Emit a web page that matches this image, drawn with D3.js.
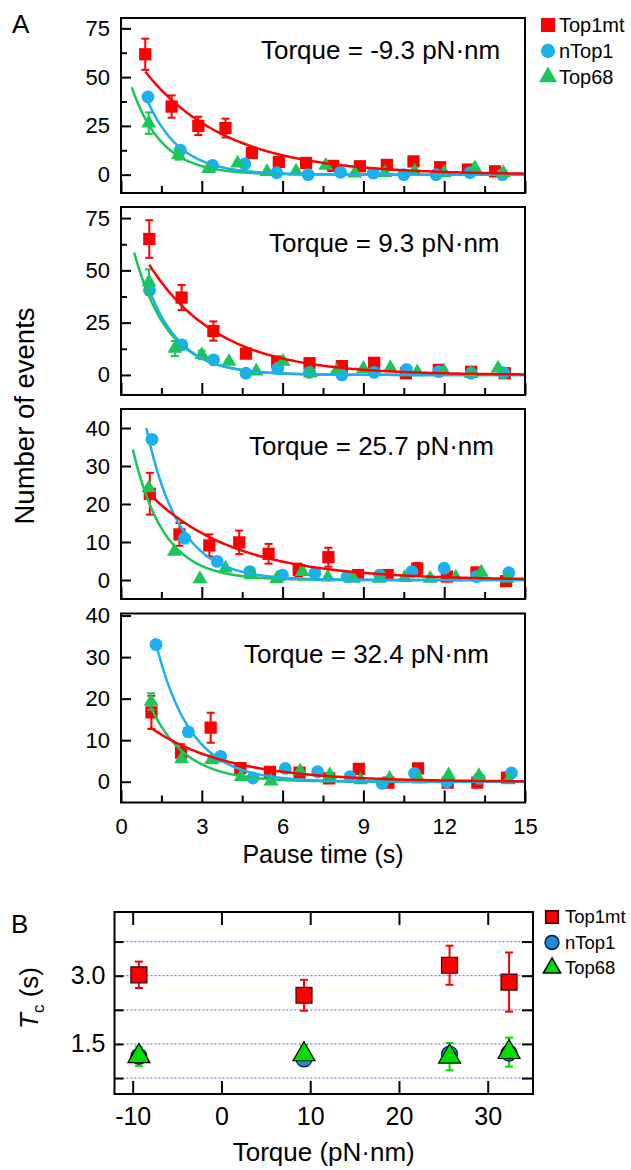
<!DOCTYPE html>
<html>
<head>
<meta charset="utf-8">
<script src="https://cdn.jsdelivr.net/npm/d3@7"></script>
<style>
  body { margin: 0; background: #fff; }
  text { font-family: "Liberation Sans", Arial, sans-serif; fill: #000; }
</style>
</head>
<body>
<svg id="chart" width="631" height="1170"></svg>
<script>
const seriesNames = ["Top1mt", "nTop1", "Top68"]
const colorsA = ["#ff0000", "#1cb0ee", "#18c65a"]
const torqueLabels = ["Torque = -9.3 pN·nm", "Torque = 9.3 pN·nm", "Torque = 25.7 pN·nm", "Torque = 32.4 pN·nm"]

// panel A, one inner list per torque (-9.3, 9.3, 25.7, 32.4)
const top1mtTime = [
  [0.9, 1.88, 2.87, 3.88, 4.86, 5.86, 6.87, 7.88, 8.87, 9.87, 10.86, 11.85, 12.88, 13.89],
  [1.05, 2.25, 3.43, 4.64, 5.8, 7.0, 8.2, 9.4, 10.58, 11.8, 13.0, 14.25],
  [1.07, 2.17, 3.28, 4.39, 5.48, 6.6, 7.7, 8.8, 9.9, 11.0, 12.1, 13.2, 14.3],
  [1.13, 2.23, 3.33, 4.43, 5.53, 6.63, 7.73, 8.83, 9.93, 11.03, 12.13, 13.23, 14.33]
]
const top1mtCount = [
  [61.7, 34.9, 25, 23.9, 11.1, 6.5, 6.0, 4.5, 4.3, 5.0, 6.8, 3.8, 2.6, 1.7],
  [65, 37, 21, 10.2, 6.4, 5.6, 4.2, 5.8, 0.8, 2.4, 1.5, 0.8],
  [22.7, 12, 9.1, 9.9, 6.9, 2.6, 6.0, 1.3, 1.3, 3.0, 0.9, 2.0, -0.3],
  [16.7, 7.0, 13.0, 3.3, 2.4, 2.2, 0.8, 3.1, -0.2, 3.2, -0.2, -0.2, 1.0]
]
const top1mtErr = [
  [8, 5.7, 4.7, 4.8, 0, 0, 0, 0, 0, 0, 0, 0, 0, 0],
  [9, 6, 4.6, 0, 0, 0, 0, 0, 0, 0, 0, 0],
  [5.5, 3, 2.9, 3.1, 2.6, 1.7, 2.5, 0, 0, 1.5, 0, 0, 0],
  [4, 2, 3.6, 0, 0, 0, 0, 0, 0, 0, 0, 0, 0]
]
const nTop1Time = [
  [1.0, 2.2, 3.4, 4.6, 5.78, 6.95, 8.15, 9.37, 10.5, 11.7, 12.96, 14.16],
  [1.06, 2.26, 3.44, 4.64, 5.82, 7.0, 8.2, 9.4, 10.6, 11.8, 13.0, 14.2],
  [1.15, 2.36, 3.57, 4.78, 5.99, 7.2, 8.4, 9.6, 10.8, 12.0, 13.2, 14.4],
  [1.3, 2.5, 3.7, 4.9, 6.1, 7.3, 8.5, 9.7, 10.9, 12.1, 13.3, 14.5]
]
const nTop1Count = [
  [39.8, 12.6, 4.7, 5.5, 1.0, 0, 1.2, 0.8, 0, 0, 1.0, 0],
  [40.5, 14.4, 7.2, 0.8, 3.2, 1.2, 0, 1.2, 2.6, 1.6, 0.8, 1.1],
  [37, 11, 4.9, 2.2, 1.3, 1.8, 0.9, 1.3, 2.2, 3.1, 0.9, 1.9],
  [33, 12, 6.1, 0.9, 3.2, 2.4, 1.2, -0.4, 2.0, 0, 0.8, 2.1]
]
const top68Time = [
  [1.03, 2.13, 3.25, 4.33, 5.42, 6.5, 7.6, 8.68, 9.8, 10.9, 12.0, 13.14, 14.2],
  [1.04, 2.0, 3.0, 4.01, 5.02, 6.02, 7.03, 8.0, 9.0, 10.0, 11.0, 12.0, 13.0, 14.0],
  [1.03, 1.98, 2.93, 3.88, 4.83, 5.78, 6.73, 7.68, 8.63, 9.58, 10.53, 11.48, 12.43, 13.38, 14.33],
  [1.12, 2.25, 3.36, 4.46, 5.57, 6.65, 7.75, 8.9, 9.97, 11.06, 12.16, 13.29, 14.39]
]
const top68Count = [
  [26.4, 10.2, 3.0, 5.8, 1.5, 1.7, 4.7, 0.7, 1.0, 1.7, 0.9, 3.4, 0.9],
  [44.5, 12.6, 9.6, 6.4, 1.8, 6.4, 0.8, 2.0, 3.0, 3.4, 1.4, 1.6, 0.8, 3.2],
  [24.2, 7.5, 0.3, 3.1, 1.3, 0.3, 2.2, 0.7, 0.4, 0.4, 0.6, 0.4, 0.7, 2.0, 0.4],
  [19.3, 5.5, 5.3, 1.2, 0.1, 2.6, 1.6, 0.4, 0.8, 0.6, 1.6, 1.4, 0.4]
]
const top68Err = [
  [5.5, 2.5, 0, 0, 0, 0, 0, 0, 0, 0, 0, 0, 0],
  [6, 3.6, 2, 0, 0, 0, 0, 0, 0, 0, 0, 0, 0, 0],
  [0, 0, 0, 0, 0, 0, 0, 0, 0, 0, 0, 0, 0, 0, 0],
  [2, 0, 0, 0, 0, 0, 0, 0, 0, 0, 0, 0, 0]
]

// exponential fits: start time, value at start, decay time (s); order Top1mt, nTop1, Top68
const fitStart = [[0.9, 1.0, 0.4], [1.05, 1.06, 0.49], [1.02, 0.94, 0.44], [1.08, 1.25, 1.0]]
const fitStartValue = [[52.8, 37.5, 44.8], [52.7, 40.4, 58.5], [22.9, 40, 34.3], [13.1, 34.5, 19.5]]
const fitTau = [[3.05, 1.2, 1.12], [2.6, 1.2, 1.25], [3.2, 1.22, 1.15], [2.9, 1.3, 1.3]]

const yDomains = [[-9.4, 80.3], [-9.6, 80.3], [-5, 45], [-5, 40.5]]
const yTicks = [[0, 25, 50, 75], [0, 25, 50, 75], [0, 10, 20, 30, 40], [0, 10, 20, 30, 40]]
const yMinor = [[12.5, 37.5, 62.5], [12.5, 37.5, 62.5], [], []]
const timeTicks = [0, 3, 6, 9, 12, 15]
const timeMinor = [1.5, 4.5, 7.5, 10.5, 13.5]

// panel B
const torqueValues = [-9.3, 9.3, 25.7, 32.4]
const tcTop1mt = [3.02, 2.57, 3.23, 2.86]
const tcTop1mtErr = [0.29, 0.34, 0.43, 0.65]
const tcNTop1 = [1.23, 1.17, 1.28, 1.3]
const tcNTop1Err = [0.1, 0.1, 0.12, 0.12]
const tcTop68 = [1.23, 1.27, 1.22, 1.32]
const tcTop68Err = [0.21, 0.2, 0.3, 0.32]
const torqueTicks = [-10, 0, 10, 20, 30]
const tcTicks = [0.75, 1.5, 2.25, 3.0, 3.75]

const svg = d3.select("#chart")
const font = '"Liberation Sans", Arial, sans-serif'

const symbols = [d3.symbolSquare, d3.symbolCircle, d3.symbolTriangle]

// ---------- panel A ----------
const panelTop = [18, 207, 409, 613.5]
const panelBottom = [193, 395, 599, 802.5]
const labelPos = [[261, 59], [269, 252], [249, 455], [244, 663]]
const left = 121, right = 525

const x = d3.scaleLinear().domain([0, 15]).range([left, right])

svg.append("text").attr("x", 12).attr("y", 33).attr("font-size", 26).text("A")

for (let p = 0; p < 4; p++) {
    const y = d3.scaleLinear().domain(yDomains[p]).range([panelBottom[p], panelTop[p]])
    const g = svg.append("g")

    const clipId = `clip-${p}`
    g.append("clipPath").attr("id", clipId)
    .append("rect")
    .attr("x", left).attr("y", panelTop[p])
    .attr("width", right - left).attr("height", panelBottom[p] - panelTop[p])

    // y ticks (inward)
    g.append("g")
    .attr("transform", `translate(${left},0)`)
    .call(d3.axisLeft(y).tickValues(yTicks[p]).tickSize(-10).tickPadding(11))
    .call(a => a.select(".domain").remove())
    .call(a => a.selectAll("line").attr("stroke-width", 2))
    .call(a => a.selectAll("text").attr("font-size", 22).attr("font-family", font))

    g.append("g")
    .attr("transform", `translate(${left},0)`)
    .call(d3.axisLeft(y).tickValues(yMinor[p]).tickSize(-6).tickFormat(""))
    .call(a => a.select(".domain").remove())
    .call(a => a.selectAll("line").attr("stroke-width", 2))

    // x ticks (inward)
    g.append("g")
    .attr("transform", `translate(0,${panelBottom[p]})`)
    .call(d3.axisBottom(x).tickValues(timeTicks).tickSize(-12).tickPadding(16)
        .tickFormat(p === 3 ? d => String(d) : ""))
    .call(a => a.select(".domain").remove())
    .call(a => a.selectAll("line").attr("stroke-width", 2))
    .call(a => a.selectAll("text").attr("font-size", 22).attr("font-family", font))

    g.append("g")
    .attr("transform", `translate(0,${panelBottom[p]})`)
    .call(d3.axisBottom(x).tickValues(timeMinor).tickSize(-7).tickFormat(""))
    .call(a => a.select(".domain").remove())
    .call(a => a.selectAll("line").attr("stroke-width", 2))

    const plot = g.append("g").attr("clip-path", `url(#${clipId})`)

    const series = [
        {t: top1mtTime[p], n: top1mtCount[p], e: top1mtErr[p]},
        {t: nTop1Time[p], n: nTop1Count[p], e: nTop1Time[p].map(() => 0)},
        {t: top68Time[p], n: top68Count[p], e: top68Err[p]}
    ]

    series.forEach((s, si) => {
        const pts = s.t.map((t, i) => ({t, n: s.n[i], e: s.e[i]}))
        const eb = plot.selectAll(`.err-${si}`)
        .data(pts.filter(d => d.e > 0))
        .enter()
        .append("g")
        .attr("class", `err-${si}`)
        .attr("stroke", colorsA[si])
        .attr("stroke-width", 2)
        eb.append("line")
        .attr("x1", d => x(d.t)).attr("x2", d => x(d.t))
        .attr("y1", d => y(d.n - d.e)).attr("y2", d => y(d.n + d.e))
        eb.append("line")
        .attr("x1", d => x(d.t) - 4).attr("x2", d => x(d.t) + 4)
        .attr("y1", d => y(d.n + d.e)).attr("y2", d => y(d.n + d.e))
        eb.append("line")
        .attr("x1", d => x(d.t) - 4).attr("x2", d => x(d.t) + 4)
        .attr("y1", d => y(d.n - d.e)).attr("y2", d => y(d.n - d.e))

        const size = [150, 130, 95][si]
        plot.selectAll(`.pt-${si}`)
        .data(pts)
        .enter()
        .append("path")
        .attr("class", `pt-${si}`)
        .attr("d", d3.symbol().type(symbols[si]).size(size))
        .attr("transform", d => `translate(${x(d.t)},${y(d.n)})`)
        .attr("fill", colorsA[si])
    })

    // fit curves
    const line = d3.line().x(d => x(d[0])).y(d => y(d[1]))
    ;[2, 1, 0].forEach(si => {
        const t0 = fitStart[p][si], y0 = fitStartValue[p][si], tau = fitTau[p][si]
        const curve = d3.range(t0, 15.001, 0.05).map(t => [t, y0 * Math.exp(-(t - t0) / tau)])
        plot.append("path")
        .attr("d", line(curve))
        .attr("fill", "none")
        .attr("stroke", colorsA[si])
        .attr("stroke-width", 2.5)
    })

    g.append("rect")
    .attr("x", left).attr("y", panelTop[p])
    .attr("width", right - left).attr("height", panelBottom[p] - panelTop[p])
    .attr("fill", "none").attr("stroke", "#000").attr("stroke-width", 2)

    g.append("text")
    .attr("x", labelPos[p][0]).attr("y", labelPos[p][1])
    .attr("font-size", 26)
    .text(torqueLabels[p])
}

svg.append("text")
.attr("x", (left + right) / 2).attr("y", 863)
.attr("text-anchor", "middle").attr("font-size", 25)
.text("Pause time (s)")

svg.append("text")
.attr("transform", "translate(34,416) rotate(-90)")
.attr("text-anchor", "middle").attr("font-size", 27.5)
.text("Number of events")

// legend A
const legA = svg.append("g")
seriesNames.forEach((name, i) => {
    const ly = 25 + i * 26
    legA.append("path")
    .attr("d", d3.symbol().type(symbols[i]).size([196, 160, 140][i]))
    .attr("transform", `translate(548,${ly})`)
    .attr("fill", colorsA[i])
    legA.append("text")
    .attr("x", 559).attr("y", ly).attr("dy", "0.35em")
    .attr("font-size", 20)
    .text(name)
})

// ---------- panel B ----------
const bLeft = 114.5, bRight = 533, bTop = 912, bBottom = 1094
const xb = d3.scaleLinear().domain([-12.05, 35.1]).range([bLeft, bRight])
const yb = d3.scaleLinear().domain([0.4, 4.4]).range([bBottom, bTop])
const colorsB = ["#ff0000", "#1a8fdc", "#00dd00"]
const strokesB = ["#3a0000", "#001a40", "#000000"]

svg.append("text").attr("x", 11).attr("y", 933).attr("font-size", 26).text("B")

const gb = svg.append("g")

gb.selectAll(".grid")
.data(tcTicks)
.enter()
.append("line")
.attr("class", "grid")
.attr("x1", bLeft).attr("x2", bRight)
.attr("y1", d => yb(d)).attr("y2", d => yb(d))
.attr("stroke", "#7878ff")
.attr("stroke-width", 1.2)
.attr("stroke-dasharray", "2,2")

gb.append("g")
.attr("transform", `translate(${bLeft},0)`)
.call(d3.axisLeft(yb).tickValues(tcTicks).tickSize(-9).tickPadding(9)
    .tickFormat(d => (d === 1.5 || d === 3.0) ? d3.format(".1f")(d) : ""))
.call(a => a.select(".domain").remove())
.call(a => a.selectAll("line").attr("stroke-width", 2))
.call(a => a.selectAll("text").attr("font-size", 25).attr("font-family", font))

gb.append("g")
.attr("transform", `translate(${bRight},0)`)
.call(d3.axisRight(yb).tickValues(tcTicks).tickSize(-11).tickFormat(""))
.call(a => a.select(".domain").remove())
.call(a => a.selectAll("line").attr("stroke-width", 2))

gb.append("g")
.attr("transform", `translate(0,${bBottom})`)
.call(d3.axisBottom(xb).tickValues(torqueTicks).tickSize(-13).tickPadding(13).tickFormat(d => String(d)))
.call(a => a.select(".domain").remove())
.call(a => a.selectAll("line").attr("stroke-width", 2))
.call(a => a.selectAll("text").attr("font-size", 25).attr("font-family", font))

gb.append("g")
.attr("transform", `translate(0,${bTop})`)
.call(d3.axisTop(xb).tickValues(torqueTicks).tickSize(-13).tickFormat(""))
.call(a => a.select(".domain").remove())
.call(a => a.selectAll("line").attr("stroke-width", 2))

const bSeries = [
    {v: tcTop1mt, e: tcTop1mtErr},
    {v: tcNTop1, e: tcNTop1Err},
    {v: tcTop68, e: tcTop68Err}
]
bSeries.forEach((s, si) => {
    const pts = torqueValues.map((t, i) => ({t, v: s.v[i], e: s.e[i]}))
    const eb = gb.selectAll(`.berr-${si}`)
    .data(pts)
    .enter()
    .append("g")
    .attr("class", `berr-${si}`)
    .attr("stroke", colorsB[si])
    .attr("stroke-width", 2)
    eb.append("line")
    .attr("x1", d => xb(d.t)).attr("x2", d => xb(d.t))
    .attr("y1", d => yb(d.v - d.e)).attr("y2", d => yb(d.v + d.e))
    eb.append("line")
    .attr("x1", d => xb(d.t) - 4).attr("x2", d => xb(d.t) + 4)
    .attr("y1", d => yb(d.v + d.e)).attr("y2", d => yb(d.v + d.e))
    eb.append("line")
    .attr("x1", d => xb(d.t) - 4).attr("x2", d => xb(d.t) + 4)
    .attr("y1", d => yb(d.v - d.e)).attr("y2", d => yb(d.v - d.e))
})
bSeries.forEach((s, si) => {
    gb.selectAll(`.bpt-${si}`)
    .data(torqueValues.map((t, i) => ({t, v: s.v[i]})))
    .enter()
    .append("path")
    .attr("d", d3.symbol().type(symbols[si]).size([256, 200, 210][si]))
    .attr("transform", d => `translate(${xb(d.t)},${yb(d.v)})`)
    .attr("fill", colorsB[si])
    .attr("stroke", strokesB[si])
    .attr("stroke-width", 1.2)
})

gb.append("rect")
.attr("x", bLeft).attr("y", bTop)
.attr("width", bRight - bLeft).attr("height", bBottom - bTop)
.attr("fill", "none").attr("stroke", "#000").attr("stroke-width", 2)

svg.append("text")
.attr("x", (bLeft + bRight) / 2).attr("y", 1161)
.attr("text-anchor", "middle").attr("font-size", 26)
.text("Torque (pN·nm)")

const tcLabel = svg.append("text")
.attr("transform", "translate(38,998) rotate(-90)")
.attr("text-anchor", "middle").attr("font-size", 26)
tcLabel.append("tspan").attr("font-style", "italic").text("T")
tcLabel.append("tspan").attr("font-size", 17).attr("dy", 6).text("c")
tcLabel.append("tspan").attr("dy", -6).text(" (s)")

// legend B
seriesNames.forEach((name, i) => {
    const ly = 917 + i * 25.5
    svg.append("path")
    .attr("d", d3.symbol().type(symbols[i]).size([160, 150, 130][i]))
    .attr("transform", `translate(552,${ly})`)
    .attr("fill", colorsB[i])
    .attr("stroke", strokesB[i])
    .attr("stroke-width", 1.5)
    svg.append("text")
    .attr("x", 565).attr("y", ly).attr("dy", "0.35em")
    .attr("font-size", 18.5)
    .text(name)
})
</script>
</body>
</html>
